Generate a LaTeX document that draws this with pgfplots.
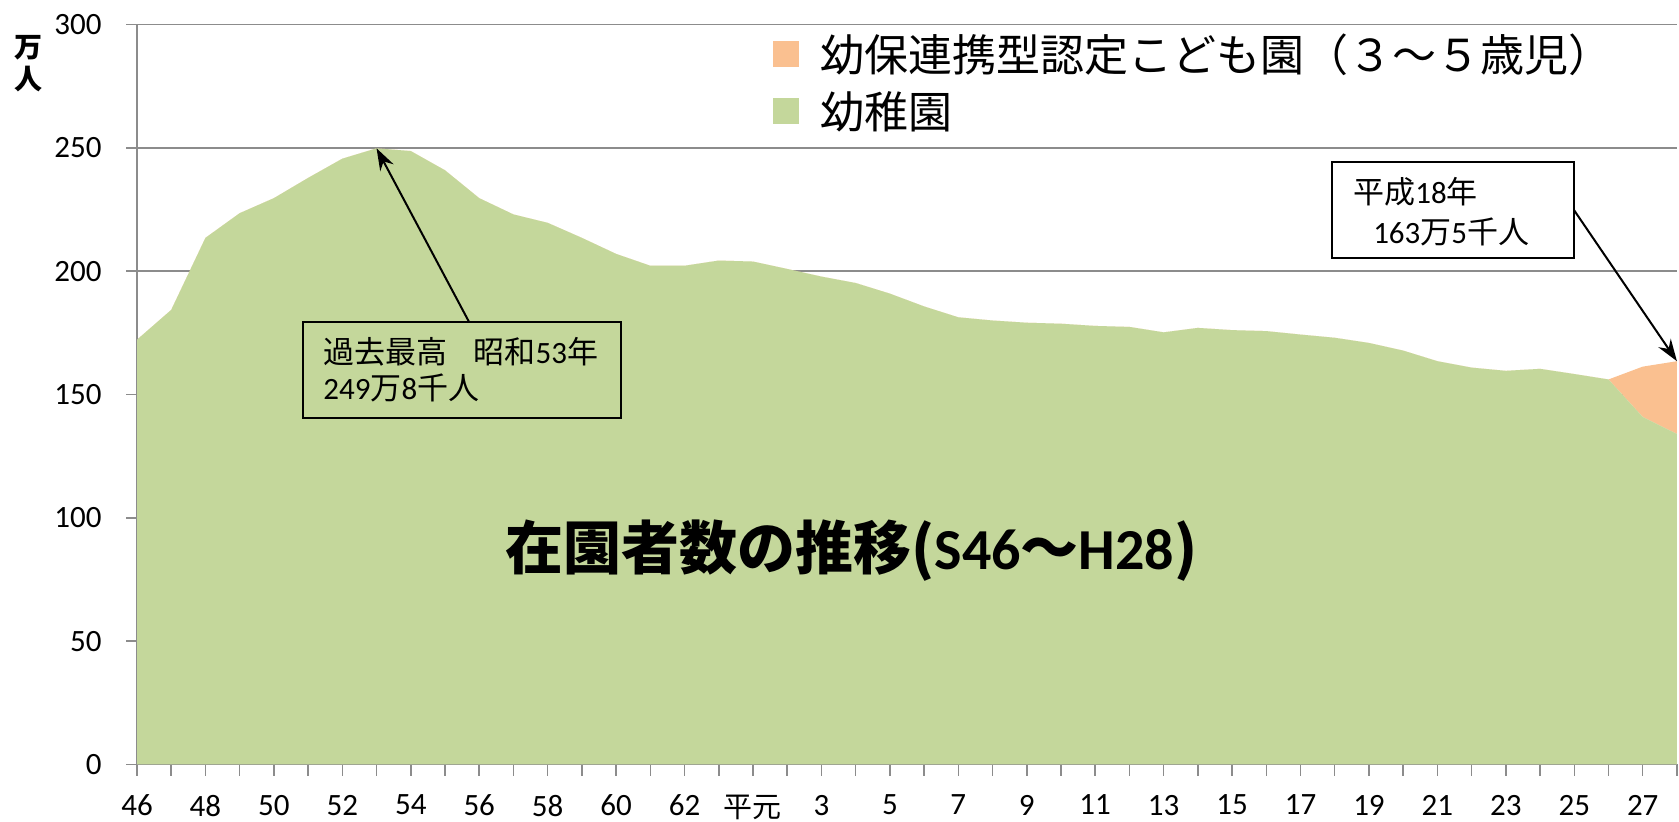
\documentclass[border=0pt]{standalone}
\usepackage{pgfplots}
\pgfplotsset{compat=1.18}
\usepackage{pgfplotstable}
\usepackage{fontspec}
\setmainfont{Carlito}
\newfontfamily\jp{Noto Sans CJK JP}
\usetikzlibrary{arrows.meta}
\definecolor{kgreen}{HTML}{C4D79B}
\definecolor{korange}{HTML}{FAC090}
\definecolor{gridgray}{HTML}{8C8C8C}
\pgfplotstableread{
x g o
46 172.2 0
47 184.3 0
48 213.5 0
49 223.5 0
50 229.6 0
51 237.8 0
52 245.6 0
53 249.8 0
54 248.7 0
55 240.9 0
56 229.6 0
57 223.0 0
58 219.6 0
59 213.5 0
60 207.0 0
61 202.2 0
62 202.2 0
63 204.3 0
64 203.9 0
65 200.9 0
66 197.8 0
67 195.2 0
68 190.9 0
69 185.7 0
70 181.3 0
71 180.0 0
72 179.1 0
73 178.7 0
74 177.8 0
75 177.4 0
76 175.2 0
77 177.0 0
78 176.1 0
79 175.7 0
80 174.3 0
81 173.0 0
82 170.9 0
83 167.8 0
84 163.5 0
85 160.9 0
86 159.6 0
87 160.4 0
88 158.3 0
89 156.1 0
90 140.9 20.4
91 134.0 29.5
}\datatable
\begin{document}
\begin{tikzpicture}[x=1pt,y=1pt]
\path[use as bounding box] (0,0) rectangle (1679,822);
\node[font=\jp\bfseries\fontsize{28}{30}\selectfont, align=center, inner sep=0pt] at (28,758) {万\\[2pt]人};
\begin{axis}[
  at={(137pt,57.5pt)}, anchor=south west,
  scale only axis, width=1540pt, height=740pt,
  xmin=46, xmax=91, ymin=0, ymax=300,
  axis lines*=left,
  axis line style={draw=gridgray, line width=1.5pt},
  ytick={0,50,...,300},
  ymajorgrids, grid style={draw=gridgray, line width=1.5pt},
  xtick={46,48,...,90},
  minor xtick={47,49,...,91},
  xticklabels={46,48,50,52,54,56,58,60,62,{\jp\fontsize{29}{34}\selectfont 平元},3,5,7,9,11,13,15,17,19,21,23,25,27},
  tick align=outside,
  major tick length=11pt, minor tick length=11pt,
  tick style={draw=gridgray, line width=1.5pt},
  /pgf/number format/assume math mode=true,
  ticklabel style={font=\fontsize{31}{36}\selectfont},
  yticklabel style={xshift=-21pt},
  xticklabel style={yshift=-16pt},
  stack plots=y,
  reverse legend,
  legend cell align=left,
  legend style={at={(axis cs:64.59,295.6)}, anchor=north west, draw=none, fill=none,
    font=\jp\fontsize{44}{50}\selectfont, inner sep=0pt, row sep=13pt,
    nodes={inner sep=0pt, text height=36pt, text depth=8pt},
    /tikz/every odd column/.append style={column sep=21pt}},
  legend image code/.code={\fill[#1,draw=none] (0pt,-9pt) rectangle (26pt,17pt);},
]
\addplot[fill=kgreen, draw=none] table[x=x,y=g]{\datatable} \closedcycle;
\addlegendentry{幼稚園}
\addplot[fill=korange, draw=none] table[x=x,y=o]{\datatable} \closedcycle;
\addlegendentry{幼保連携型認定こども園（３～５歳児）}
\coordinate (b1sw) at (axis cs:50.86,140.4);
\coordinate (b1ne) at (axis cs:60.14,179.5);
\coordinate (a1s) at (axis cs:55.70,179.5);
\coordinate (a1e) at (axis cs:53,249.8);
\coordinate (t1a) at (axis cs:51.44,167.4);
\coordinate (t1b) at (axis cs:51.44,152.8);
\coordinate (b2sw) at (axis cs:80.92,205.3);
\coordinate (b2ne) at (axis cs:87.99,244.3);
\coordinate (a2s) at (axis cs:87.99,224.8);
\coordinate (a2e) at (axis cs:91,163.5);
\coordinate (t2a) at (axis cs:81.54,232.2);
\coordinate (t2b) at (axis cs:82.12,215.9);
\coordinate (ttl) at (axis cs:66.88,86.6);
\end{axis}
% annotation 1
\draw[line width=2pt] (b1sw) rectangle (b1ne);
\draw[line width=2pt, -{Stealth[length=22pt,width=15pt]}] (a1s) -- (a1e);
\node[anchor=west, inner sep=0pt, font=\fontsize{31}{36}\selectfont] at (t1a) {{\jp 過去最高}\hspace{0.85em}{\jp 昭和}53{\jp 年}};
\node[anchor=west, inner sep=0pt, font=\fontsize{31}{36}\selectfont] at (t1b) {249{\jp 万}8{\jp 千人}};
% annotation 2
\draw[line width=2pt, fill=white] (b2sw) rectangle (b2ne);
\draw[line width=2pt, -{Stealth[length=22pt,width=15pt]}] (a2s) -- (a2e);
\node[anchor=west, inner sep=0pt, font=\fontsize{31}{36}\selectfont] at (t2a) {{\jp 平成}18{\jp 年}};
\node[anchor=west, inner sep=0pt, font=\fontsize{31}{36}\selectfont] at (t2b) {163{\jp 万}5{\jp 千人}};
% title
\node[font=\bfseries\fontsize{58}{64}\selectfont, inner sep=0pt] at (ttl) {{\jp\bfseries 在園者数の推移(}S46{\jp\bfseries ～}H28{\jp\bfseries )}};
\end{tikzpicture}
\end{document}
